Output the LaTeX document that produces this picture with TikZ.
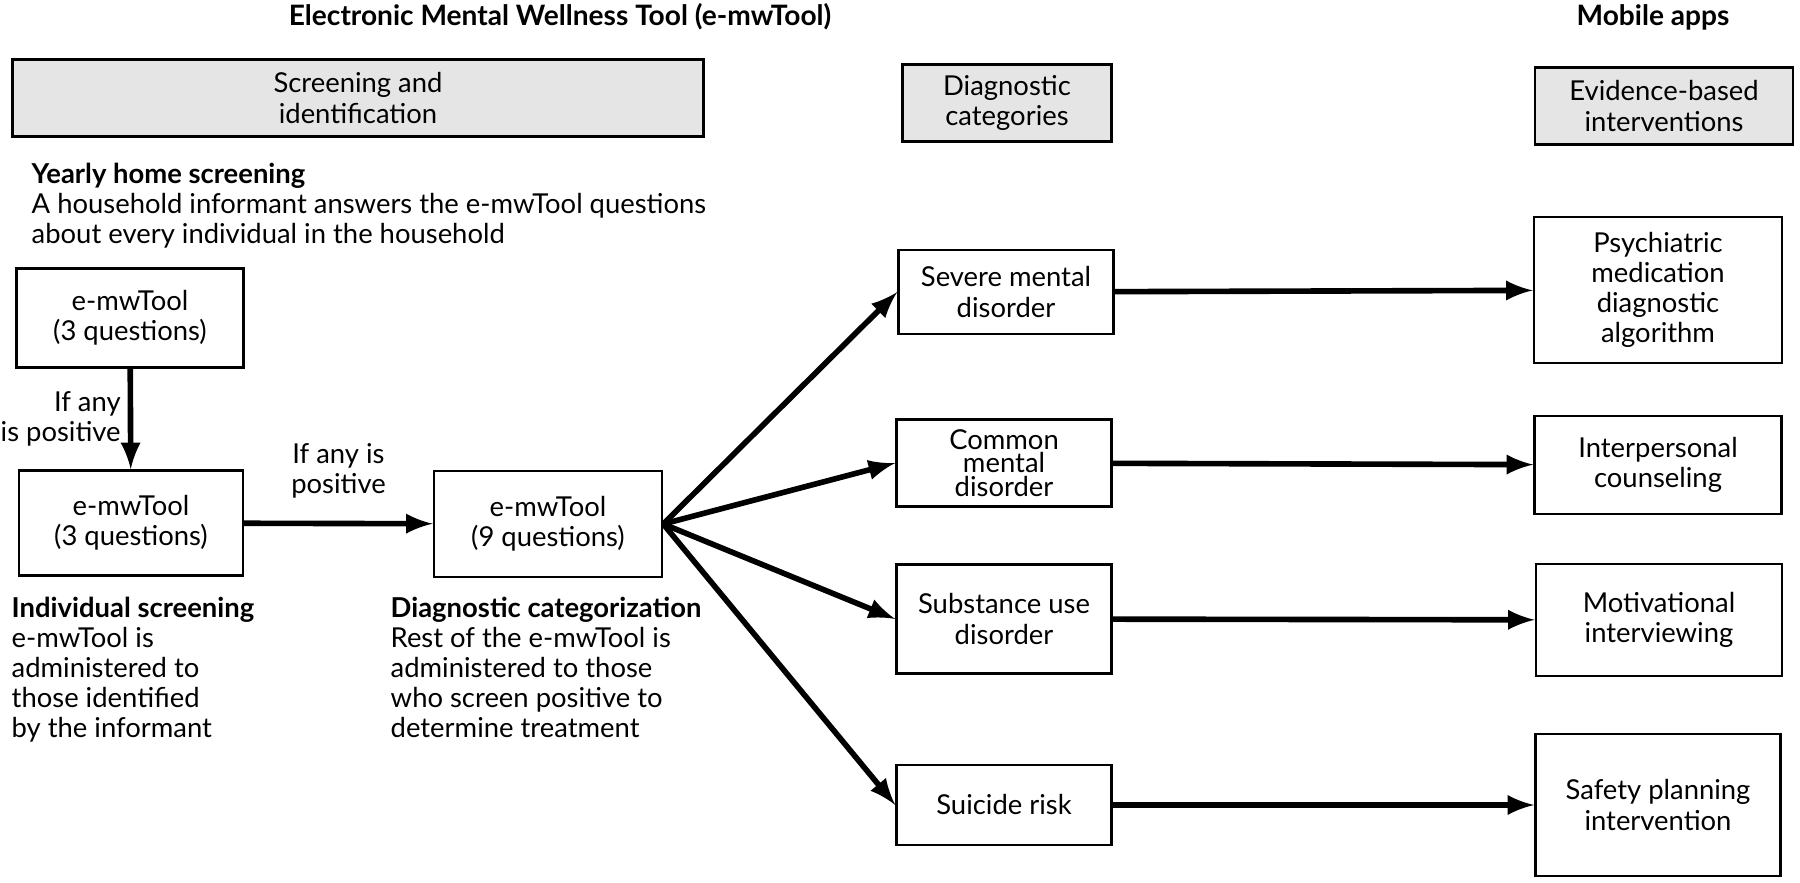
\documentclass[tikz,border=0pt]{standalone}
\usepackage{fontspec}
\setmainfont{Lato}
\usetikzlibrary{arrows,positioning}
\tikzset{
  box/.style={draw, line width=0.7pt, align=center, inner sep=0pt},
  hdr/.style={box, fill=black!10},
  arr/.style={line width=1.6pt, -latex},
  blurb/.style={align=left, inner sep=0pt, anchor=north west},
}
\begin{document}
\begin{tikzpicture}[x=0.1mm, y=-0.1mm, font=\fontsize{7.8}{8.6}\selectfont]
    \useasboundingbox (0,0) rectangle (1800,883);
    \node[font=\fontsize{8}{8.6}\selectfont\bfseries] (title) at (560,17) {Electronic Mental Wellness Tool (e-mwTool)};
    \node[font=\fontsize{8}{8.6}\selectfont\bfseries] (apps) at (1653,17) {Mobile apps};
    \node[hdr, minimum width=69.1mm, minimum height=7.7mm] (screen) at (358,98) {Screening and\\identification};
    \node[hdr, minimum width=20.9mm, minimum height=7.7mm] (diagcat) at (1007,103) {Diagnostic\\categories};
    \node[hdr, minimum width=25.8mm, minimum height=7.7mm] (evid) at (1664,106) {Evidence-based\\interventions};
    \node[blurb] (yearly) at (31,162) {\textbf{Yearly home screening}\\A household informant answers the e-mwTool questions\\about every individual in the household};
    \node[box, minimum width=22.7mm, minimum height=9.9mm] (tool3a) at (130,318) {e-mwTool\\(3 questions)};
    \node[box, minimum width=22.4mm, minimum height=10.5mm] (tool3b) at (131,523) {e-mwTool\\(3 questions)};
    \node[box, minimum width=22.8mm, minimum height=10.6mm] (tool9) at (548,524) {e-mwTool\\(9 questions)};
    \node[blurb] (indiv) at (11,596) {\textbf{Individual screening}\\e-mwTool is\\administered to\\those identified\\by the informant};
    \node[blurb] (categ) at (390,596) {\textbf{Diagnostic categorization}\\Rest of the e-mwTool is\\administered to those\\who screen positive to\\determine treatment};
    \node[box, minimum width=21.5mm, minimum height=8.4mm] (severe) at (1006,292) {Severe mental\\disorder};
    \node[box, minimum width=21.5mm, minimum height=8.7mm] (common) at (1004,463) {Common\\[-0.7mm]mental\\[-0.7mm]disorder};
    \node[box, minimum width=21.5mm, minimum height=10.9mm] (subst) at (1004,619) {Substance use\\disorder};
    \node[box, minimum width=21.5mm, minimum height=8.0mm] (suicide) at (1004,805) {Suicide risk};
    \node[box, minimum width=24.8mm, minimum height=14.6mm] (psych) at (1658,290) {Psychiatric\\medication\\diagnostic\\algorithm};
    \node[box, minimum width=24.7mm, minimum height=9.8mm] (interp) at (1658,465) {Interpersonal\\counseling};
    \node[box, minimum width=24.6mm, minimum height=11.2mm] (motiv) at (1659,620) {Motivational\\interviewing};
    \node[box, minimum width=24.5mm, minimum height=14.2mm] (safety) at (1658,805) {Safety planning\\intervention};
    \draw[arr] (tool3a) -- node[left, align=right, inner sep=0.7mm] {If any\\is positive} (tool3b);
    \draw[arr] (tool3b) -- node[above, align=center, inner sep=2.2mm] {If any is\\positive} (tool9);
    \draw[arr] (tool9.east) -- (severe.west);
    \draw[arr] (tool9.east) -- (common.west);
    \draw[arr] (tool9.east) -- (subst.west);
    \draw[arr] (tool9.east) -- (suicide.west);
    \draw[arr] (severe) -- (psych);
    \draw[arr] (common) -- (interp);
    \draw[arr] (subst) -- (motiv);
    \draw[arr] (suicide) -- (safety);
\end{tikzpicture}
\end{document}
